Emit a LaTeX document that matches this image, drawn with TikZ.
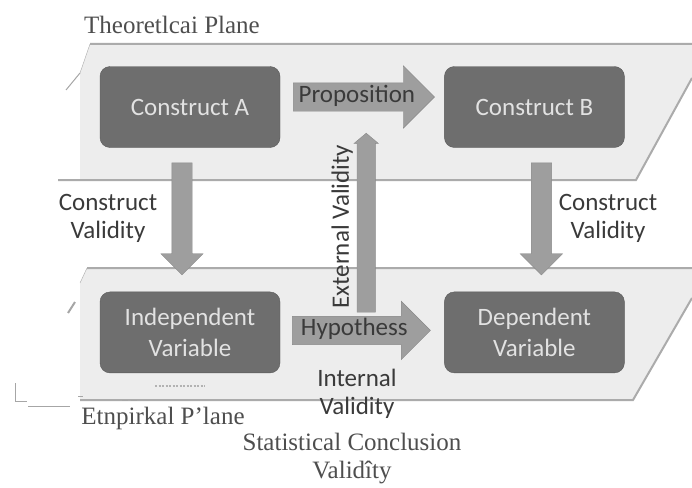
\documentclass[tikz,border=0pt]{standalone}
\usepackage{fontspec}
\setmainfont{Liberation Serif}
\newfontfamily\sansfnt{Carlito}
\usepackage{xcolor}
\usetikzlibrary{shapes.arrows}
\usetikzlibrary{positioning}
\usetikzlibrary{calc}

\definecolor{boxgray}{HTML}{6E6E6E}
\definecolor{boxline}{HTML}{5A5A5A}
\definecolor{boxtext}{HTML}{E2E2E2}
\definecolor{arrgray}{HTML}{9E9E9E}
\definecolor{arrline}{HTML}{8A8A8A}
\definecolor{planefill}{HTML}{EDEDED}
\definecolor{planeline}{HTML}{ABABAB}
\definecolor{inkgray}{HTML}{3A3A3A}
\definecolor{serifgray}{HTML}{4E4E4E}

\tikzset{
  box/.style={rectangle, rounded corners=10pt, minimum width=180pt, minimum height=81pt,
    fill=boxgray, draw=boxline, text=boxtext, align=center,
    font=\sansfnt\fontsize{25}{31}\selectfont},
  blockarrow/.style={single arrow, fill=arrgray, draw=arrline, text=inkgray,
    text height=16pt, text depth=6pt, inner ysep=3pt, inner xsep=5pt,
    font=\sansfnt\fontsize{25}{29}\selectfont},
  vshaft/.style={single arrow, fill=arrgray, draw=arrline, text height=0pt, text depth=0pt,
    inner xsep=0pt, inner ysep=10pt, single arrow head extend=11pt},
  lbl/.style={text=inkgray, align=center, font=\sansfnt\fontsize{25}{28}\selectfont},
  planelbl/.style={text=serifgray, align=center, font=\fontsize{25}{28}\selectfont},
  planeedge/.style={draw=planeline, line width=2pt},
  scanmark/.style={draw=gray!70, line width=1pt}
}

\begin{document}
\begin{tikzpicture}[x=1pt,y=-1pt]
\useasboundingbox (0,0) rectangle (692,487);

\coordinate (T1) at (80,73);
\coordinate (T2) at (90,44);
\coordinate (T3) at (692,44);
\coordinate (T4) at (692,78);
\coordinate (T5) at (636,180);
\coordinate (T6) at (80,180);

\coordinate (E1) at (80,283);
\coordinate (E2) at (87,268);
\coordinate (E3) at (692,268);
\coordinate (E4) at (692,298);
\coordinate (E5) at (633,400);
\coordinate (E6) at (80,400);

\fill[planefill] (T1)--(T2)--(T3)--(T4)--(T5)--(T6)--cycle;
\fill[planefill] (E1)--(E2)--(E3)--(E4)--(E5)--(E6)--cycle;
\draw[planeedge]
  (T2)--(T3)
  (T4)--(T5)--(T6)--(58,180)
  (E2)--(E3)
  (E4)--(E5)--(E6);
\draw[planeline, thin] (T1)--(T2) (E1)--(E2);

\draw[scanmark] (66,90)--(T1);
\draw[scanmark, line width=2pt] (68,313)--(75,302);
\draw[scanmark]
  (15,383)--(15,401)--(27,401)
  (28,406)--(70,406)
  (78,396)--(83,396)
  (122,400)--(128,400)
  (131,400)--(137,400);
\draw[gray!60, line width=2pt, dash pattern=on 2pt off 1.5pt] (155,386)--(205,386);

\node[box] (ca) at (190,107) {Construct A};
\node[box, right=164pt of ca] (cb) {Construct B};
\node[box, below=144pt of ca] (iv) {Independent\\Variable};
\node[box, right=164pt of iv] (dv) {Dependent\\Variable};

\node[blockarrow, minimum height=137pt, single arrow head extend=17pt, anchor=tail]
  (prop) at ([xshift=13pt,yshift=10pt]ca.east) {Proposition};
\node[blockarrow, minimum height=138pt, single arrow head extend=15pt, anchor=tail]
  (hyp) at ([xshift=12pt,yshift=2pt]iv.east) {Hypothess};

\node[vshaft, rotate=-90, minimum height=112pt, anchor=tail]
  (cvl) at ([xshift=-8pt,yshift=-15pt]ca.south) {};
\node[vshaft, rotate=-90, minimum height=112pt, anchor=tail]
  (cvr) at ([xshift=7pt,yshift=-15pt]cb.south) {};
\node[vshaft, rotate=90, minimum height=179pt, inner ysep=9pt,
  single arrow head extend=3pt, single arrow tip angle=100, anchor=tail]
  (ext) at ($(hyp.tail)+(74,-18)$) {};

\node[lbl] (cvtxtl) at (108,218) {Construct\\Validity};
\node[lbl] (cvtxtr) at (608,218) {Construct\\Validity};
\node[lbl, rotate=90] (exttxt) at ($(ext.center)+(-24,0)$) {External Validity};
\node[lbl] (inttxt) at (357,394) {Internal\\Validity};

\node[planelbl] (theo) at (172,25) {Theoretlcai Plane};
\node[planelbl] (emp) at (163,418) {Etnpirkal P'lane};
\node[planelbl] (scv) at (352,459) {Statistical Conclusion\\Validîty};
\end{tikzpicture}
\end{document}
